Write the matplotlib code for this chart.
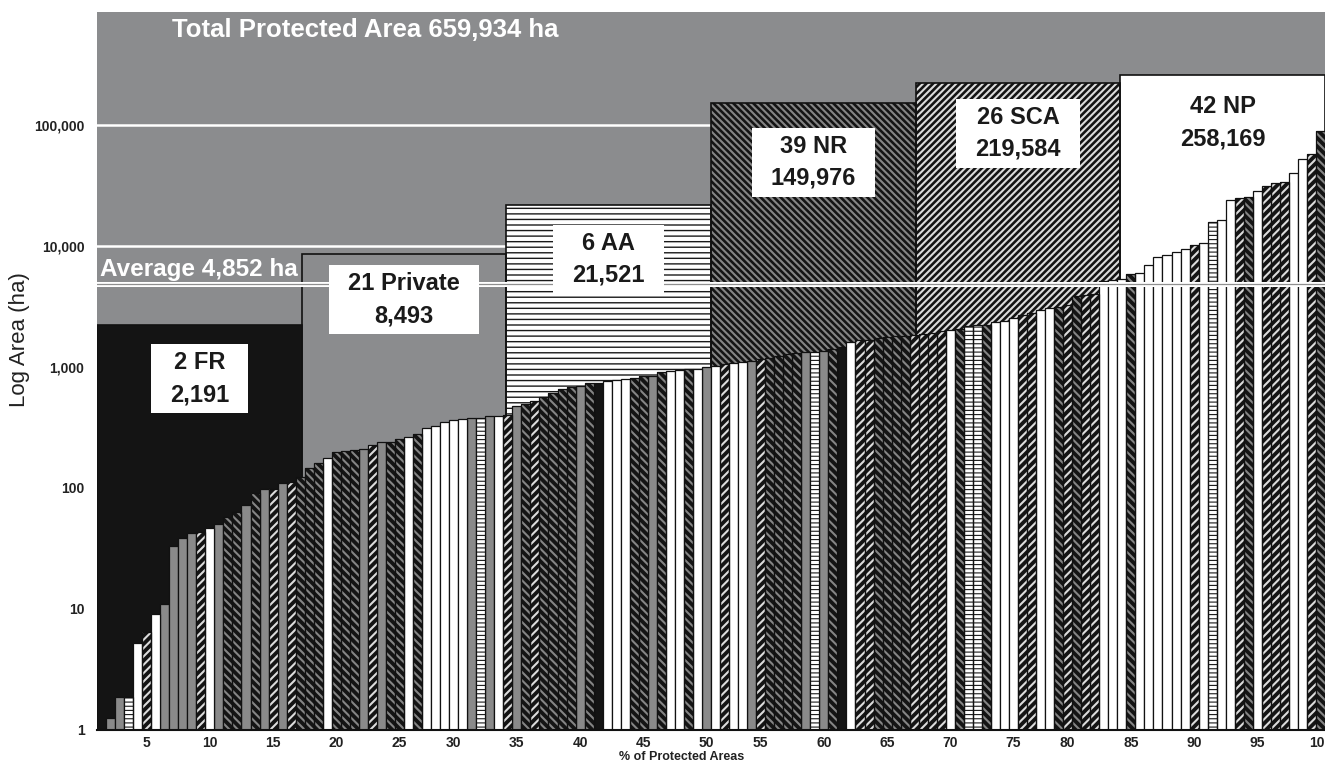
import numpy as np
import matplotlib
matplotlib.use("Agg")
import matplotlib.pyplot as plt
from matplotlib.patches import Rectangle
from matplotlib.ticker import FixedLocator, FuncFormatter, NullLocator

plt.rcParams['font.family'] = ['Liberation Sans', 'DejaVu Sans']
plt.rcParams['hatch.linewidth'] = 1.5

# ---------------- data ----------------
categories = ['FR', 'Private', 'AA', 'NR', 'SCA', 'NP']
cat_counts = [2, 21, 6, 39, 26, 42]
cat_totals = [2191, 8493, 21521, 149976, 219584, 258169]
total_area = 659934
average_area = 4852

# individual protected areas, sorted by size (ha)
area_values = [
    1.0, 1.25, 1.87, 1.87, 5.2, 6.4, 9.0, 10.9, 32.9, 38.4,
    41.9, 42.5, 46.3, 50.3, 57, 63, 71.5, 90, 97, 98,
    110, 111, 123, 144, 159, 177, 195, 202, 204, 208,
    223, 236, 240, 250, 262, 277, 309, 325, 350, 358,
    370, 375, 378, 388, 392, 400, 475, 490, 520, 565,
    605, 650, 680, 695, 735, 735, 755, 780, 782, 805,
    830, 840, 900, 925, 927, 950, 952, 985, 1010, 1040,
    1070, 1100, 1110, 1150, 1180, 1220, 1260, 1290, 1325, 1330,
    1345, 1400, 1456, 1590, 1650, 1660, 1720, 1750, 1780, 1800,
    1830, 1860, 1900, 1950, 2000, 2030, 2180, 2185, 2200, 2350,
    2370, 2500, 2680, 2750, 2930, 3050, 3100, 3250, 3800, 3900,
    4000, 5050, 5150, 5300, 5800, 5950, 6900, 8000, 8400, 8900,
    9400, 10100, 10500, 15600, 16400, 23800, 24800, 25200, 28000, 30800,
    33000, 33600, 39500, 51600, 57500, 88000,
]
area_cats = [
    'NR', 'Private', 'Private', 'AA', 'NP', 'SCA', 'NP', 'Private', 'Private', 'Private',
    'Private', 'SCA', 'NP', 'Private', 'NR', 'NR', 'Private', 'NR', 'Private', 'SCA',
    'Private', 'SCA', 'NR', 'NR', 'NR', 'NP', 'NR', 'NR', 'NR', 'Private',
    'SCA', 'Private', 'NR', 'NR', 'NP', 'NR', 'NP', 'NP', 'NP', 'NP',
    'NP', 'Private', 'AA', 'Private', 'NP', 'SCA', 'Private', 'NR', 'SCA', 'NR',
    'NR', 'NR', 'NR', 'Private', 'NR', 'FR', 'NP', 'NP', 'NP', 'NR',
    'NR', 'Private', 'NR', 'NP', 'NP', 'NR', 'NP', 'Private', 'NP', 'SCA',
    'NP', 'NP', 'Private', 'SCA', 'NR', 'NR', 'NR', 'NR', 'Private', 'AA',
    'Private', 'NR', 'FR', 'NP', 'SCA', 'SCA', 'NR', 'NR', 'NR', 'NR',
    'SCA', 'SCA', 'SCA', 'SCA', 'NP', 'NR', 'AA', 'AA', 'NR', 'NP',
    'NP', 'NP', 'SCA', 'SCA', 'NP', 'NP', 'NR', 'SCA', 'NR', 'SCA',
    'SCA', 'NP', 'NP', 'NP', 'NR', 'NP', 'NP', 'NP', 'NP', 'NP',
    'NP', 'SCA', 'NP', 'AA', 'NP', 'NP', 'SCA', 'NR', 'NP', 'SCA',
    'SCA', 'SCA', 'NP', 'NP', 'SCA', 'NR',
]
x_tick_pct = list(range(5, 101, 5))

# ---------------- styles ----------------
bg_grey = '#8b8c8e'
style = {
    #          face       hatch color  bar hatch      block hatch
    'FR':      ('#141414', '#141414', None,          None),
    'Private': ('#8a8a8a', '#111111', None,          None),
    'AA':      ('#ffffff', '#1a1a1a', '----',        '---'),
    'NR':      ('#141414', '#858585', '\\\\\\\\',    '\\\\\\\\\\'),
    'SCA':     ('#141414', '#dcdcdc', '////',        '/////'),
    'NP':      ('#ffffff', '#111111', None,          None),
}

n = len(area_values)
fig = plt.figure(figsize=(13.25, 7.62), dpi=100, facecolor='white')
ax = fig.add_axes([97/1325, 1-729.5/762, (1325-97)/1325, (729.5-12)/762])
ax.set_facecolor(bg_grey)
ax.set_yscale('log')
ax.set_xlim(0, n)
ax.set_ylim(1, 10**5.93)

# gridlines
ax.set_axisbelow(True)
ax.yaxis.grid(True, which='major', color='white', lw=1.8)

# category blocks
block_w = n / len(categories)
block_x = np.arange(len(categories)) * block_w
for i, cat in enumerate(categories):
    face, hc, _, bh = style[cat]
    if cat == 'Private':
        face = bg_grey
    b = ax.bar(block_x[i], cat_totals[i], width=block_w, align='edge',
               color=face, edgecolor=hc, hatch=bh, linewidth=0, zorder=2)
    if cat == 'AA':
        for p in b:
            if hasattr(p, 'set_hatch_linewidth'):
                p.set_hatch_linewidth(1.0)
    ax.bar(block_x[i], cat_totals[i], width=block_w, align='edge',
           fill=False, edgecolor='#111111', linewidth=1.2, zorder=2.1)

# individual bars
xs = np.arange(n)
vals = np.array(area_values)
cats = np.array(area_cats)
for cat in categories:
    m = cats == cat
    face, hc, bh, _ = style[cat]
    if bh is None:
        ax.bar(xs[m], vals[m], width=1, align='edge', color=face,
               edgecolor='#111111', linewidth=0.9, zorder=3)
    else:
        b = ax.bar(xs[m], vals[m], width=1, align='edge', color=face,
                   edgecolor=hc, hatch=bh, linewidth=0, zorder=3)
        if cat == 'AA':
            for p in b:
                if hasattr(p, 'set_hatch_linewidth'):
                    p.set_hatch_linewidth(0.8)
        ax.bar(xs[m], vals[m], width=1, align='edge', fill=False,
               edgecolor='#111111', linewidth=0.9, zorder=3.1)

# average line (double white line)
ax.axhline(average_area, color='white', lw=3.6, zorder=4)
ax.axhline(average_area, color='#8f8f8f', lw=0.9, zorder=4.1)
ax.text(0.3, average_area * 1.15, f'Average {average_area:,} ha', color='white',
        fontsize=17.5, fontweight='bold', ha='left', va='baseline', zorder=4.2)

# title inside
ax.text(0.061, 0.975, f'Total Protected Area {total_area:,} ha', transform=ax.transAxes,
        color='white', fontsize=18.5, fontweight='bold', ha='left', va='center', zorder=5)

# block labels (white boxes sized around the text)
label_y = [789, 3548, 7730, 49000, 85000, 103000]
label_texts = []
for i, cat in enumerate(categories):
    t = ax.text(block_x[i] + block_w / 2, label_y[i], f'{cat_counts[i]} {cat}\n{cat_totals[i]:,}',
                ha='center', va='center', fontsize=17, fontweight='bold', color='#1a1a1a',
                linespacing=1.5, zorder=6)
    label_texts.append(t)

# axes styling
for s in ['left', 'top', 'right']:
    ax.spines[s].set_visible(False)
ax.spines['bottom'].set_color('#111111')
ax.spines['bottom'].set_linewidth(1.5)
ax.spines['bottom'].set_zorder(7)

ax.yaxis.set_major_locator(FixedLocator([1, 10, 100, 1000, 10000, 100000]))
ax.yaxis.set_minor_locator(NullLocator())
ax.yaxis.set_major_formatter(FuncFormatter(lambda v, p: f'{int(round(v)):,}'))
tick_pos = [np.floor(p * n / 100) - 0.5 for p in x_tick_pct]
ax.set_xticks(tick_pos)
ax.set_xticklabels([str(p) for p in x_tick_pct])
ax.tick_params(axis='both', length=0, labelsize=10, labelcolor='#222222')
ax.tick_params(axis='x', pad=4.5)
ax.tick_params(axis='y', pad=9)
for lab in ax.get_xticklabels() + ax.get_yticklabels():
    lab.set_fontweight('bold')

fig.text(20/1325, 1-340/762, 'Log Area (ha)', rotation=90, ha='center', va='center',
         fontsize=16, color='#222222')
fig.text(682/1325, 1-757.5/762, '% of Protected Areas', ha='center', va='center',
         fontsize=9, fontweight='bold', color='#222222')

# draw white boxes behind the label texts
fig.canvas.draw()
renderer = fig.canvas.get_renderer()
inv = ax.transData.inverted()
hpad, vpad = 19, 7
for t in label_texts:
    bb = t.get_window_extent(renderer)
    (dx0, dy0), (dx1, dy1) = inv.transform([(bb.x0 - hpad, bb.y0 - vpad),
                                            (bb.x1 + hpad, bb.y1 + vpad)])
    ax.add_patch(Rectangle((dx0, dy0), dx1 - dx0, dy1 - dy0, facecolor='white',
                           edgecolor='none', zorder=5.5))

fig.savefig('out.png', dpi=100, facecolor='white')
